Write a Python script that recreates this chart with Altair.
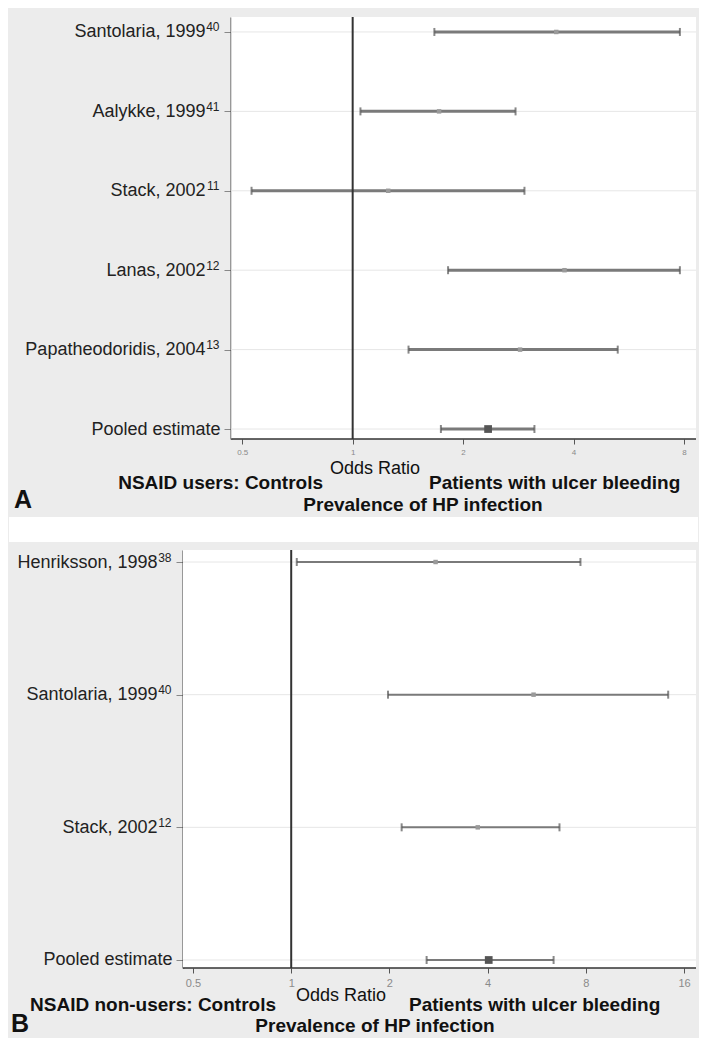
import json
import altair as alt
import pandas as pd

# ---------------- data ----------------
a_names = ["Santolaria, 1999", "Aalykke, 1999", "Stack, 2002",
           "Lanas, 2002", "Papatheodoridis, 2004", "Pooled estimate"]
a_refs = ["40", "41", "11", "12", "13", ""]
a_or = [3.59, 1.72, 1.25, 3.78, 2.86, 2.34]
a_low = [1.67, 1.05, 0.53, 1.82, 1.42, 1.74]
a_high = [7.8, 2.78, 2.94, 7.8, 5.28, 3.13]
a_ticks = [0.5, 1, 2, 4, 8]

b_names = ["Henriksson, 1998", "Santolaria, 1999", "Stack, 2002", "Pooled estimate"]
b_refs = ["38", "40", "12", ""]
b_or = [2.77, 5.53, 3.73, 4.03]
b_low = [1.04, 1.98, 2.18, 2.6]
b_high = [7.7, 14.3, 6.64, 6.37]
b_ticks = [0.5, 1, 2, 4, 8, 16]

a_texts = ["NSAID users:  Controls", "Odds Ratio", "Patients with ulcer bleeding",
           "Prevalence of HP infection", "A"]
b_texts = ["NSAID non-users:  Controls", "Odds Ratio", "Patients with ulcer bleeding",
           "Prevalence of HP infection", "B"]

FONT = "Liberation Sans, Arial, sans-serif"
GRAY = "#ececec"


def panel(names, refs, est, low, high, ticks, domain, vis_lo, width, height, pad, align,
          extent, yoffset, tick_lab_size, ci_w, texts, pos, band=None):
    df = pd.DataFrame({
        "study": names, "or": est, "low": low, "high": high,
        "kind": ["Pooled" if r == "" else "Study" for r in refs],
    })
    xscale = alt.Scale(type="log", base=2, domain=domain, nice=False, zero=False)
    xaxis = alt.Axis(values=ticks, format="~g", title=None, grid=False, domain=False,
                     tickColor="#555555", tickSize=5, labelColor="#8a8a8a",
                     labelFontSize=tick_lab_size, labelPadding=4, labelFont=FONT)

    def X(field):
        return alt.X(field, type="quantitative", scale=xscale, axis=xaxis)

    def XD(v):
        return alt.X(datum=v, type="quantitative", scale=xscale, axis=xaxis)

    yscale = alt.Scale(type="point", padding=pad, align=align, domain=names)
    sup_expr = json.dumps(refs) + "[indexof(" + json.dumps(names) + ", datum.value)]"
    no_ref = "datum.value === 'Pooled estimate'"
    main_axis = alt.Axis(title=None, grid=False, orient="left", domainColor="#444444",
                         domainWidth=2, tickColor="#888888", tickSize=7,
                         labelColor="#222222", labelFontSize=18,
                         labelPadding={"condition": {"test": no_ref, "value": 4}, "value": 19},
                         minExtent=extent, maxExtent=extent, offset=yoffset,
                         labelLimit=400, labelFont=FONT)
    sup_axis = alt.Axis(title=None, grid=False, orient="left", domain=False, ticks=False,
                        labelColor="#222222", labelFontSize=12, labelPadding=12,
                        labelOffset=-5, minExtent=extent, maxExtent=extent,
                        offset=yoffset, labelFont=FONT, labelExpr=sup_expr)
    Ymain = alt.Y("study:N", sort=names, scale=yscale, axis=main_axis)
    Ysup = alt.Y("study:N", sort=names, scale=yscale, axis=sup_axis)
    Y = alt.Y("study:N", sort=names, scale=yscale, axis=None)

    one = pd.DataFrame({"k": [0]})
    base = alt.Chart(df)
    # white data area, from the left end of the visible x range to the right end
    bg = alt.Chart(one).mark_rect(color="white").encode(
        x=XD(vis_lo), x2=alt.X2(datum=domain[1]), y=alt.value(0), y2=alt.value(height))
    grid = base.mark_rule(color="#e6e6e6", strokeWidth=1).encode(
        x=XD(vis_lo), x2=alt.X2(datum=domain[1]), y=Ysup)
    bottom = alt.Chart(one).mark_rule(color="#333333", strokeWidth=1.5).encode(
        x=XD(vis_lo), x2=alt.X2(datum=domain[1]), y=alt.value(height))
    ci = base.mark_rule(color="#7a7a7a", strokeWidth=ci_w).encode(
        x=X("low"), x2="high", y=Ymain)
    cap_l = base.mark_tick(color="#555555", size=8, thickness=2).encode(x=X("low"), y=Y)
    cap_h = base.mark_tick(color="#555555", size=8, thickness=2).encode(x=X("high"), y=Y)
    pt = base.mark_point(shape="square", filled=True, opacity=1).encode(
        x=X("or"), y=Y,
        size=alt.Size("kind:N", scale=alt.Scale(domain=["Study", "Pooled"], range=[20, 60]),
                      legend=None),
        color=alt.Color("kind:N", scale=alt.Scale(domain=["Study", "Pooled"],
                                                  range=["#9a9a9a", "#555555"]),
                        legend=None),
    )
    ref = alt.Chart(pd.DataFrame({"v": [1]})).mark_rule(color="#333333", strokeWidth=2).encode(
        x=X("v"))

    layers = []
    if band is not None:
        layers.append(alt.Chart(one).mark_rect(color="white").encode(
            x=alt.value(band[0]), x2=alt.value(band[1]),
            y=alt.value(band[2]), y2=alt.value(band[3])))
    layers += [bg, grid, ci, cap_l, cap_h, pt, ref, bottom]
    styles = [("right", "bold", 19), ("center", "normal", 18), ("left", "bold", 19),
              ("center", "bold", 19), ("left", "bold", 25)]
    for t, (px, py), (al, wt, fs) in zip(texts, pos, styles):
        layers.append(
            alt.Chart(pd.DataFrame({"t": [t]})).mark_text(
                align=al, baseline="middle", fontWeight=wt, fontSize=fs,
                font=FONT, color="#111111").encode(
                x=alt.value(px), y=alt.value(py), text="t:N"))
    return alt.layer(*layers).resolve_axis(y="independent").properties(
        width=width, height=height,
        view=alt.ViewBackground(fill=GRAY, stroke="transparent"))


# Panel A: its visible data area starts 48px right of the shared left edge
pa = panel(a_names, a_refs, a_or, a_low, a_high, a_ticks, [0.3447, 8.63], 0.4665, 513, 422,
           0.157, 0.6, 150, -48, 8, 3, a_texts,
           [(140, 466), (192, 452), (246, 466), (240, 488), (-169, 483)])
pb = panel(b_names, b_refs, b_or, b_low, b_high, b_ticks, [0.466, 17.4], 0.466, 513, 418,
           0.0754, 0.6, 174, 0, 11, 2, b_texts,
           [(93, 455), (158, 446), (226, 455), (192, 476), (-172, 474)],
           band=(-174, 515, -33, -8))

chart = alt.ConcatChart(concat=[pa, pb], columns=1, align="each", spacing=0).properties(
    background=GRAY,
    padding={"left": 0, "top": 7, "right": 0, "bottom": 0},
).configure(font=FONT)

chart.save("out.html", embed_options={"renderer": "svg", "actions": False})
